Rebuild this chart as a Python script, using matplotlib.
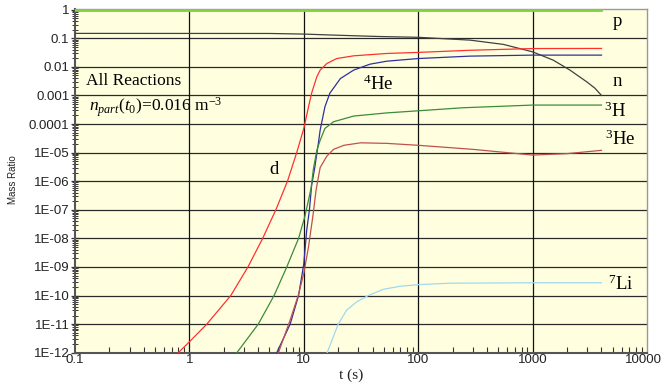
"""
mass ratio of light nuclei vs time, all reactions
"""
import matplotlib
matplotlib.use("Agg")
import matplotlib.pyplot as plt
import matplotlib.transforms as mtransforms
from matplotlib.ticker import FixedLocator, LogLocator, NullFormatter

# values
p_t = [0.1, 4000]
p_y = [0.95, 0.95]

n_t = [0.1, 5, 10, 17, 46, 100, 284, 555, 1000, 1517, 2120, 2970, 3500, 4000]
n_y = [0.148, 0.147, 0.14, 0.13, 0.115, 0.108, 0.086, 0.061, 0.0335, 0.0171,
       0.0077, 0.003, 0.0018, 0.001]

d_t = [0.75, 0.8, 1.0, 1.42, 2.3, 3.25, 4.37, 5.7, 7.2, 8.67, 10.0, 11.0, 11.7,
       13.0, 13.9, 15.9, 19.4, 27.3, 53.3, 100, 284, 1000, 4000]
d_y = [6e-13, 1e-12, 2.4e-12, 1e-11, 1e-10, 1e-9, 1e-8, 1e-7, 1e-6, 1e-5, 7e-5,
       4e-4, 1.2e-3, 4.5e-3, 7.7e-3, 1.31e-2, 1.95e-2, 2.43e-2, 2.94e-2, 3.2e-2,
       3.8e-2, 4.36e-2, 4.4e-2]

he4_t = [5.6, 5.8, 7.6, 9.0, 10.0, 10.6, 11.2, 11.7, 12.5, 13.4, 13.9, 15.3, 16.9,
         20.9, 27.3, 37.9, 53.3, 100, 284, 1000, 4000]
he4_y = [6e-13, 1e-12, 1e-11, 1e-10, 1.3e-9, 1.9e-8, 1e-7, 7e-7, 3.2e-6, 2.1e-5,
         6.1e-5, 4e-4, 1.2e-3, 3.9e-3, 7.7e-3, 1.24e-2, 1.58e-2, 1.95e-2, 2.37e-2,
         2.57e-2, 2.57e-2]

h3_t = [2.5, 2.6, 4.0, 5.5, 7.1, 9.0, 10.2, 11.0, 11.6, 12.1, 13.0, 13.9, 15.3,
        18.2, 27.3, 53.3, 100, 245, 1000, 4000]
h3_y = [7e-13, 1e-12, 1e-11, 1e-10, 1e-9, 1e-8, 5.7e-8, 2.2e-7, 6e-7, 2.5e-6,
        1.2e-5, 2.7e-5, 7e-5, 1.2e-4, 1.9e-4, 2.45e-4, 2.9e-4, 3.7e-4, 4.6e-4,
        4.6e-4]

he3_t = [5.8, 6.0, 7.6, 9.0, 10.0, 11.0, 12.1, 12.8, 13.9, 15.9, 18.2, 22.4, 31.4,
         53.3, 100, 300, 1000, 2000, 4000]
he3_y = [6e-13, 1e-12, 1.4e-11, 1.1e-10, 6e-10, 5.1e-9, 7.5e-8, 4.9e-7, 3.0e-6,
         7.5e-6, 1.3e-5, 1.8e-5, 2.2e-5, 2.1e-5, 1.8e-5, 1.3e-5, 8.2e-6, 9.2e-6,
         1.2e-5]

li7_t = [15.6, 16, 20, 23.7, 29, 36.6, 49.6, 69, 100, 190, 1000, 4000]
li7_y = [4e-13, 1e-12, 1e-11, 3.1e-11, 6e-11, 1e-10, 1.65e-10, 2.1e-10, 2.4e-10,
         2.7e-10, 2.8e-10, 2.8e-10]

x_ticks = [0.1, 1, 10, 100, 1000, 10000]
x_labels = ["0.1", "1", "10", "100", "1000", "10000"]
y_ticks = [10.0 ** -k for k in range(13)]
y_labels = ["1", "0.1", "0.01", "0.001", "0.0001", "1E-05", "1E-06", "1E-07",
            "1E-08", "1E-09", "1E-10", "1E-11", "1E-12"]

W, H = 663, 385

plt.rcParams["mathtext.fontset"] = "custom"
plt.rcParams["mathtext.rm"] = "Liberation Serif"
plt.rcParams["mathtext.it"] = "Liberation Serif:italic"

fig = plt.figure(figsize=(W / 100, H / 100), dpi=100)
ax = fig.add_axes([75 / W, 1 - 352.7 / H, (647 - 75) / W, (352.7 - 9.3) / H])
ax.set_facecolor("#FFFFE0")
ax.set_xscale("log")
ax.set_yscale("log")
ax.set_xlim(0.1, 10000)
ax.set_ylim(1e-12, 1.03)

# grid
for yv in y_ticks[1:-1]:
    ax.axhline(yv, color="#2a2a2a", lw=0.9, zorder=1)
for xv in x_ticks[1:-1]:
    ax.axvline(xv, color="#111111", lw=0.9, zorder=1)

# curves
ax.plot(p_t, p_y, color="#80D040", lw=2.0, zorder=3)
ax.plot(n_t, n_y, color="#404040", lw=0.9, zorder=3)
ax.plot(d_t, d_y, color="#FF3030", lw=0.9, zorder=3)
ax.plot(he4_t, he4_y, color="#3030A0", lw=0.9, zorder=3)
ax.plot(h3_t, h3_y, color="#3A8C3A", lw=0.9, zorder=3)
ax.plot(he3_t, he3_y, color="#C05050", lw=0.9, zorder=3)
ax.plot(li7_t, li7_y, color="#A0D8F0", lw=0.9, zorder=3)

# ticks
ax.xaxis.set_major_locator(FixedLocator(x_ticks))
ax.set_xticklabels(x_labels)
ax.xaxis.set_minor_locator(LogLocator(base=10, subs=range(2, 10), numticks=20))
ax.xaxis.set_minor_formatter(NullFormatter())
ax.yaxis.set_major_locator(FixedLocator(y_ticks))
ax.set_yticklabels(y_labels)
ax.yaxis.set_minor_locator(LogLocator(base=10, subs=range(2, 10), numticks=20))
ax.yaxis.set_minor_formatter(NullFormatter())

ax.tick_params(axis="x", which="major", direction="in", length=0, pad=1,
               labelsize=9.5, labelcolor="#222222")
ax.tick_params(axis="x", which="minor", direction="in", length=4, width=0.8,
               color="#333333")
ax.tick_params(axis="y", which="major", direction="inout", length=6, width=0.9,
               pad=1, labelsize=9.5, labelcolor="#222222", color="#333333")
ax.tick_params(axis="y", which="minor", direction="inout", length=4, width=0.7,
               color="#333333")
for lab in ax.get_xticklabels() + ax.get_yticklabels():
    lab.set_fontfamily("Liberation Sans")

# keep the last x label inside the picture
last = ax.get_xticklabels()[-1]
last.set_transform(last.get_transform()
                   + mtransforms.ScaledTranslation(-4 / 100, 0, fig.dpi_scale_trans))

for side in ["left", "bottom"]:
    ax.spines[side].set_color("#555555")
    ax.spines[side].set_linewidth(1.5)
for side in ["top", "right"]:
    ax.spines[side].set_color("#999999")
    ax.spines[side].set_linewidth(1.0)


def ftext(x, y, s, size, ha="center", va="center", **kw):
    """put text at a pixel position of the figure"""
    fig.text(x / W, 1 - y / H, s, fontsize=size, ha=ha, va=va, **kw)


serif = "Liberation Serif"
ftext(617, 21, "p", 13.5, family=serif)
ftext(617, 81, "n", 13.5, family=serif)
ftext(615, 111, r"$^{3}$H", 13.5, family=serif)
ftext(620, 139, r"$^{3}$He", 13.5, family=serif)
ftext(621, 284, r"$^{7}$Li", 13.5, family=serif)
ftext(378, 84, r"$^{4}$He", 13.5, family=serif)
ftext(274, 170, "d", 13.5, family=serif)
ftext(86, 81, "All Reactions", 12.5, ha="left", family=serif)
ftext(89, 107, r"$n_{part}(t_{0})$=0.016 m$^{-3}$", 12.5, ha="left", family=serif)

ftext(13, 180, "Mass Ratio", 7, rotation=90, family="Liberation Sans", color="#222222")
ftext(351, 375, "t (s)", 11, family=serif, color="#222222")

fig.savefig("out.png", dpi=100)
